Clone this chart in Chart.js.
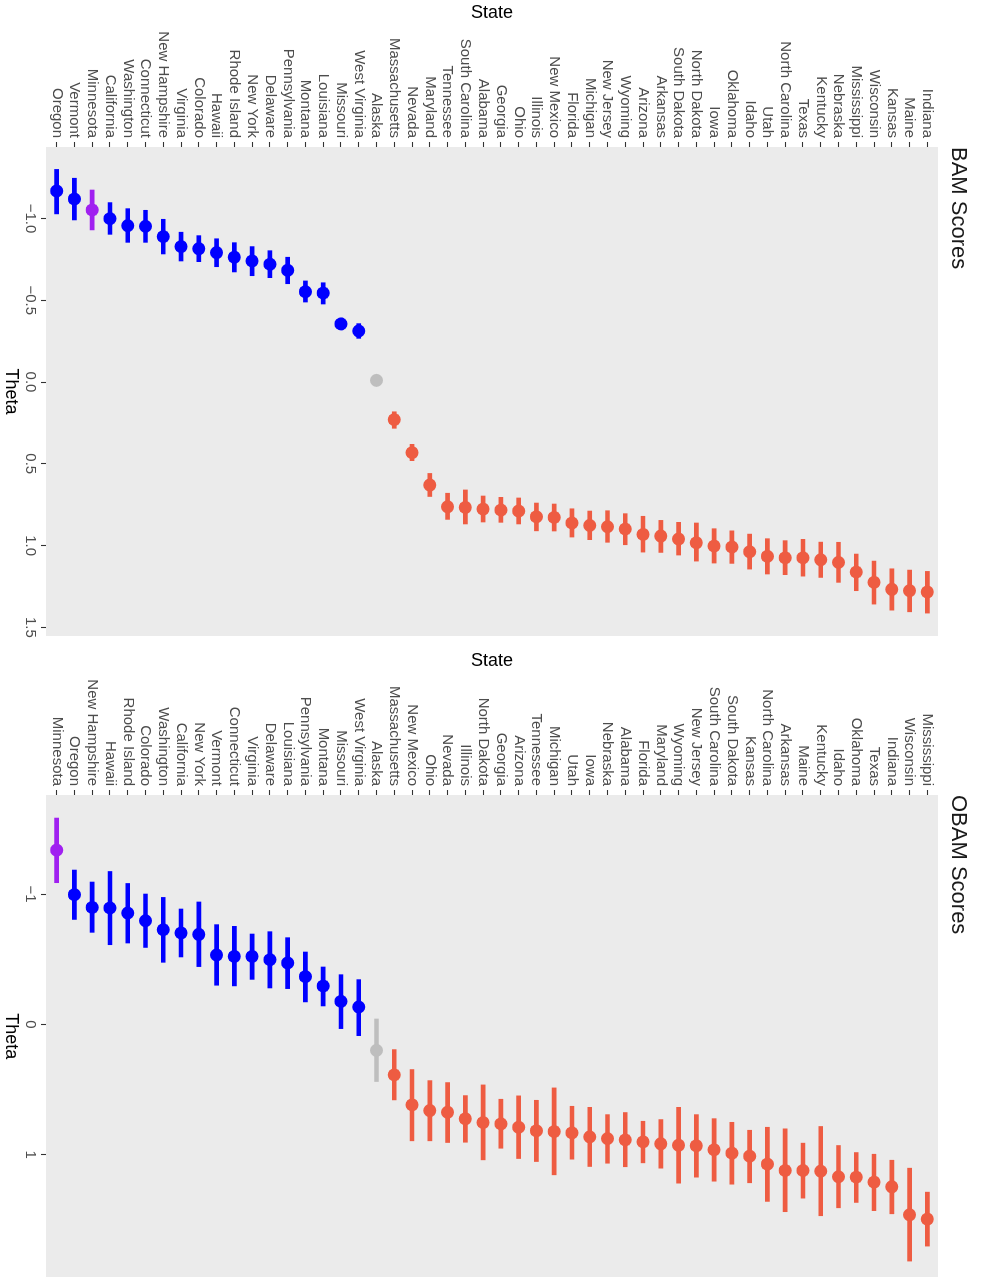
<!DOCTYPE html>
<html>
<head>
<meta charset="utf-8">
<script src="https://cdn.jsdelivr.net/npm/chart.js@4.4.1/dist/chart.umd.min.js"></script>
<style>
  html, body { margin: 0; padding: 0; background: #fff; overflow: hidden; }
  /* the plot is laid out the ggplot way (horizontal) and then turned a quarter clockwise */
  #sheet {
    position: absolute; left: 0; top: 0;
    width: 1277px; height: 982px;
    transform-origin: 0 0;
    transform: translateX(982px) rotate(90deg);
  }
  #sheet canvas { position: absolute; top: 0; }
  #bam { left: 0; }
  #obam { left: 648px; }
</style>
</head>
<body>
<div id="sheet">
  <canvas id="bam" width="648" height="982"></canvas>
  <!-- a bit wider than the page: the reference panel runs off the bottom edge -->
  <canvas id="obam" width="636" height="982"></canvas>
</div>
<script>
// BAM scores
const bamStates = ["Oregon", "Vermont", "Minnesota", "California", "Washington", "Connecticut", "New Hampshire", "Virginia", "Colorado", "Hawaii", "Rhode Island", "New York", "Delaware", "Pennsylvania", "Montana", "Louisiana", "Missouri", "West Virginia", "Alaska", "Massachusetts", "Nevada", "Maryland", "Tennessee", "South Carolina", "Alabama", "Georgia", "Ohio", "Illinois", "New Mexico", "Florida", "Michigan", "New Jersey", "Wyoming", "Arizona", "Arkansas", "South Dakota", "North Dakota", "Iowa", "Oklahoma", "Idaho", "Utah", "North Carolina", "Texas", "Kentucky", "Nebraska", "Mississippi", "Wisconsin", "Kansas", "Maine", "Indiana"];
const bamTheta = [-1.168, -1.119, -1.052, -0.999, -0.956, -0.952, -0.889, -0.828, -0.815, -0.791, -0.763, -0.740, -0.720, -0.683, -0.552, -0.544, -0.355, -0.312, -0.010, 0.230, 0.432, 0.630, 0.763, 0.767, 0.777, 0.783, 0.789, 0.824, 0.828, 0.862, 0.877, 0.885, 0.899, 0.932, 0.942, 0.960, 0.983, 1.003, 1.009, 1.038, 1.066, 1.075, 1.075, 1.087, 1.103, 1.162, 1.225, 1.268, 1.276, 1.284];
const bamLow = [-1.300, -1.246, -1.174, -1.097, -1.060, -1.050, -0.995, -0.916, -0.895, -0.876, -0.852, -0.828, -0.803, -0.763, -0.618, -0.607, -0.390, -0.357, -0.040, 0.182, 0.381, 0.559, 0.680, 0.660, 0.697, 0.705, 0.709, 0.740, 0.746, 0.775, 0.789, 0.787, 0.805, 0.821, 0.846, 0.858, 0.862, 0.897, 0.910, 0.930, 0.958, 0.970, 0.962, 0.979, 0.980, 1.052, 1.095, 1.142, 1.150, 1.158];
const bamHigh = [-1.028, -0.991, -0.930, -0.903, -0.854, -0.854, -0.783, -0.740, -0.736, -0.705, -0.673, -0.650, -0.638, -0.601, -0.489, -0.477, -0.320, -0.267, 0.020, 0.283, 0.481, 0.700, 0.840, 0.868, 0.856, 0.858, 0.868, 0.910, 0.911, 0.948, 0.964, 0.980, 0.995, 1.040, 1.042, 1.058, 1.095, 1.107, 1.109, 1.144, 1.174, 1.178, 1.187, 1.195, 1.225, 1.276, 1.358, 1.395, 1.405, 1.413];
const bamTicks = [-1, -0.5, 0, 0.5, 1, 1.5];
const bamTickLabels = ["\u22121.0", "\u22120.5", "0.0", "0.5", "1.0", "1.5"];

// OBAM scores
const obamStates = ["Minnesota", "Oregon", "New Hampshire", "Hawaii", "Rhode Island", "Colorado", "Washington", "California", "New York", "Vermont", "Connecticut", "Virginia", "Delaware", "Louisiana", "Pennsylvania", "Montana", "Missouri", "West Virginia", "Alaska", "Massachusetts", "New Mexico", "Ohio", "Nevada", "Illinois", "North Dakota", "Georgia", "Arizona", "Tennessee", "Michigan", "Utah", "Iowa", "Nebraska", "Alabama", "Florida", "Maryland", "Wyoming", "New Jersey", "South Carolina", "South Dakota", "Kansas", "North Carolina", "Arkansas", "Maine", "Kentucky", "Idaho", "Oklahoma", "Texas", "Indiana", "Wisconsin", "Mississippi"];
const obamTheta = [-1.337, -0.995, -0.897, -0.893, -0.854, -0.795, -0.726, -0.701, -0.690, -0.532, -0.521, -0.521, -0.496, -0.471, -0.366, -0.294, -0.176, -0.133, 0.200, 0.388, 0.618, 0.662, 0.675, 0.725, 0.754, 0.764, 0.790, 0.817, 0.823, 0.833, 0.864, 0.877, 0.887, 0.902, 0.917, 0.928, 0.932, 0.963, 0.989, 1.012, 1.073, 1.122, 1.122, 1.127, 1.170, 1.173, 1.211, 1.247, 1.462, 1.495];
const obamLow = [-1.583, -1.184, -1.092, -1.173, -1.081, -1.000, -0.974, -0.885, -0.939, -0.765, -0.752, -0.693, -0.711, -0.665, -0.555, -0.440, -0.381, -0.343, -0.041, 0.194, 0.347, 0.432, 0.447, 0.547, 0.465, 0.575, 0.549, 0.583, 0.488, 0.629, 0.637, 0.693, 0.677, 0.744, 0.731, 0.637, 0.693, 0.724, 0.752, 0.813, 0.790, 0.802, 0.912, 0.784, 0.930, 0.984, 0.997, 1.043, 1.104, 1.288];
const obamHigh = [-1.087, -0.805, -0.706, -0.611, -0.624, -0.590, -0.476, -0.517, -0.443, -0.300, -0.295, -0.345, -0.279, -0.274, -0.172, -0.141, 0.033, 0.087, 0.439, 0.580, 0.894, 0.894, 0.907, 0.905, 1.040, 0.951, 1.030, 1.053, 1.155, 1.035, 1.091, 1.066, 1.093, 1.063, 1.104, 1.219, 1.173, 1.204, 1.227, 1.216, 1.359, 1.438, 1.334, 1.469, 1.408, 1.367, 1.430, 1.454, 1.817, 1.702];
const obamTicks = [-1, 0, 1];
const obamTickLabels = ["\u22121", "0", "1"];

const FONT = "'Liberation Sans', Arial, sans-serif";

function stateColour(state, theta) {
    if (state === "Minnesota") return "#A020F0";
    if (state === "Alaska") return "#BEBEBE";
    return theta < 0 ? "#0000FF" : "#EE5C42";
}

// grey panel behind the marks
const panelBackground = {
    id: "panelBackground",
    beforeDraw(chart) {
        const a = chart.chartArea;
        const ctx = chart.ctx;
        ctx.save();
        ctx.fillStyle = "#EBEBEB";
        ctx.fillRect(a.left, a.top, a.right - a.left, a.bottom - a.top);
        ctx.restore();
    }
};

const tickGrid = {
    display: true,
    offset: false,
    drawOnChartArea: false,
    drawTicks: true,
    tickLength: 5,
    tickColor: "#333333",
    tickWidth: 1.1
};

function makeChart(id, strip, states, theta, low, high, ticks, tickLabels, min, max, padRight) {
    const colours = states.map((s, i) => stateColour(s, theta[i]));
    return new Chart(document.getElementById(id), {
        type: "bar",
        data: {
            datasets: [
                {
                    type: "line",
                    data: theta.map((v, i) => ({ x: v, y: i })),
                    showLine: false,
                    pointRadius: 6.5,
                    pointHoverRadius: 6.5,
                    pointBorderWidth: 0,
                    pointBackgroundColor: colours
                },
                {
                    type: "bar",
                    data: low.map((v, i) => ({ x: [v, high[i]], y: i })),
                    backgroundColor: colours,
                    barThickness: 4,
                    borderWidth: 0
                }
            ]
        },
        options: {
            indexAxis: "y",
            responsive: false,
            animation: false,
            events: [],
            layout: { padding: { right: padRight } },
            plugins: {
                legend: { display: false },
                tooltip: { enabled: false },
                title: {
                    display: true,
                    text: strip,
                    position: "top",
                    align: "start",
                    fullSize: false,
                    color: "#1A1A1A",
                    font: { family: FONT, size: 22, weight: "normal" },
                    padding: { top: 10.8, bottom: 6.8 }
                }
            },
            scales: {
                x: {
                    type: "linear",
                    position: "bottom",
                    min: min,
                    max: max,
                    offset: false,
                    afterBuildTicks: (s) => { s.ticks = ticks.map(v => ({ value: v })); },
                    afterFit: (s) => { s.height = 46; },
                    grid: tickGrid,
                    border: { display: false },
                    ticks: {
                        callback: (v, i) => tickLabels[i],
                        maxRotation: 0,
                        color: "#4D4D4D",
                        padding: 2,
                        font: { family: FONT, size: 15 }
                    },
                    title: {
                        display: true,
                        text: "Theta",
                        color: "#000000",
                        padding: { top: 0, bottom: 0 },
                        font: { family: FONT, size: 18 }
                    }
                },
                y: {
                    type: "linear",
                    position: "left",
                    min: -0.6,
                    max: states.length - 0.4,
                    offset: false,
                    afterBuildTicks: (s) => { s.ticks = states.map((_, i) => ({ value: i })); },
                    afterFit: (s) => { s.width = 147; },
                    grid: tickGrid,
                    border: { display: false },
                    ticks: {
                        callback: (v, i) => states[i],
                        autoSkip: false,
                        color: "#4D4D4D",
                        padding: 4,
                        font: { family: FONT, size: 15 }
                    },
                    title: {
                        display: true,
                        text: "State",
                        color: "#000000",
                        padding: { top: 2.5, bottom: 0 },
                        font: { family: FONT, size: 18 }
                    }
                }
            }
        },
        plugins: [panelBackground]
    });
}

makeChart("bam", "BAM Scores", bamStates, bamTheta, bamLow, bamHigh, bamTicks, bamTickLabels, -1.437, 1.553, 12);
makeChart("obam", "OBAM Scores", obamStates, obamTheta, obamLow, obamHigh, obamTicks, obamTickLabels, -1.760, 1.943, 0);
</script>
</body>
</html>
